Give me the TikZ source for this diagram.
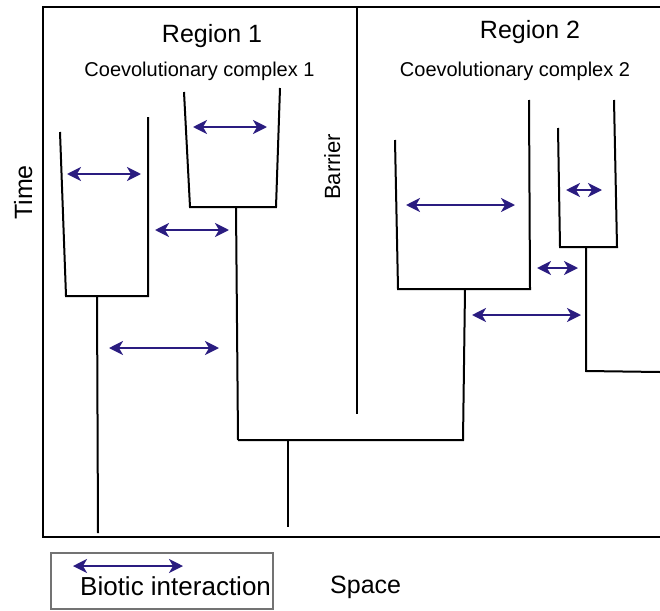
\documentclass[tikz,border=0pt]{standalone}
\usepackage{fontspec}
\setmainfont{Liberation Sans}
\usetikzlibrary{arrows.meta}
\definecolor{arrowblue}{HTML}{2A1C80}
\tikzset{
  tree/.style={line width=2pt, black, line join=miter},
  inter/.style={line width=2.2pt, arrowblue, {Stealth[length=14pt,width=14pt,inset=4pt]}-{Stealth[length=14pt,width=14pt,inset=4pt]}},
  big/.style={font=\fontsize{25}{30}\selectfont, inner sep=0pt},
  small/.style={font=\fontsize{20}{24}\selectfont, inner sep=0pt},
}
\begin{document}
\begin{tikzpicture}[x=1pt,y=-1pt]
\useasboundingbox (0,0) rectangle (660,610);
% frame
\draw[tree] (660,7) -- (43,7) -- (43,537) -- (660,537);
% barrier
\coordinate (bt) at (357,7);
\coordinate (bb) at (357,414);
\draw[tree] (bt) -- (bb);
% clade A
\coordinate (a1) at (60,132); \coordinate (a1b) at (66,296);
\coordinate (a2) at (148,117); \coordinate (a2b) at (148,296);
\coordinate (aj) at (97,296); \coordinate (ae) at (98,533);
\draw[tree] (a1) -- (a1b) -- (a2b) -- (a2);
\draw[tree] (aj) -- (ae);
% clade B
\coordinate (b1) at (184,92); \coordinate (b1b) at (190,207);
\coordinate (b2) at (280,88); \coordinate (b2b) at (276,207);
\coordinate (bj) at (236,207); \coordinate (bjl) at (238,440);
\draw[tree] (b1) -- (b1b) -- (b2b) -- (b2);
\draw[tree] (bj) -- (bjl);
% clade C
\coordinate (c1) at (395,140); \coordinate (c1b) at (398,289);
\coordinate (c2) at (529,100); \coordinate (c2b) at (530,289);
\coordinate (cj) at (465,289); \coordinate (cjl) at (463,440);
\draw[tree] (c1) -- (c1b) -- (c2b) -- (c2);
% root
\draw[tree] (cj) -- (cjl) -- (bjl);
\coordinate (rj) at (288,440); \coordinate (re) at (288,527);
\draw[tree] (rj) -- (re);
% clade D
\coordinate (d1) at (558,128); \coordinate (d1b) at (560,247);
\coordinate (d2) at (614,100); \coordinate (d2b) at (617,247);
\coordinate (dj) at (586,247); \coordinate (dk) at (586,371); \coordinate (de) at (660,372);
\draw[tree] (d1) -- (d1b) -- (d2b) -- (d2);
\draw[tree] (dj) -- (dk) -- (de);
% interactions
\coordinate (i1a) at (67,174);  \coordinate (i1b) at (141,174);
\coordinate (i2a) at (193,127); \coordinate (i2b) at (267,127);
\coordinate (i3a) at (155,230); \coordinate (i3b) at (229,230);
\coordinate (i4a) at (109,348); \coordinate (i4b) at (219,348);
\coordinate (i5a) at (406,205); \coordinate (i5b) at (515,205);
\coordinate (i6a) at (566,190); \coordinate (i6b) at (602,190);
\coordinate (i7a) at (537,268); \coordinate (i7b) at (578,268);
\coordinate (i8a) at (472,315); \coordinate (i8b) at (581,315);
\draw[inter] (i1a) -- (i1b);
\draw[inter] (i2a) -- (i2b);
\draw[inter] (i3a) -- (i3b);
\draw[inter] (i4a) -- (i4b);
\draw[inter] (i5a) -- (i5b);
\draw[inter] (i6a) -- (i6b);
\draw[inter] (i7a) -- (i7b);
\draw[inter] (i8a) -- (i8b);
% labels
\node[big, anchor=base] (r1) at (212,42) {Region 1};
\node[small, anchor=base] (cc1) at (199.5,76) {Coevolutionary complex 1};
\node[big, anchor=base] (r2) at (530,39) {Region 2};
\node[small, anchor=base] (cc2) at (515,76) {Coevolutionary complex 2};
\node[big, anchor=base west, rotate=90] (time) at (32,220) {Time};
\node[font=\fontsize{22}{26}\selectfont, inner sep=0pt, anchor=base west, rotate=90] (barrier) at (340,200) {Barrier};
\node[big, anchor=base west] (space) at (330,593) {Space};
% legend
\node[draw=black!55, line width=1.2pt, minimum width=222pt, minimum height=56pt, inner sep=0pt] (legend) at (162,581) {};
\coordinate (la) at (73,566); \coordinate (lb) at (183,566);
\draw[inter] (la) -- (lb);
\node[font=\fontsize{26}{30}\selectfont, inner sep=0pt, anchor=base west] (bi) at (80,595) {Biotic interaction};
\end{tikzpicture}
\end{document}
